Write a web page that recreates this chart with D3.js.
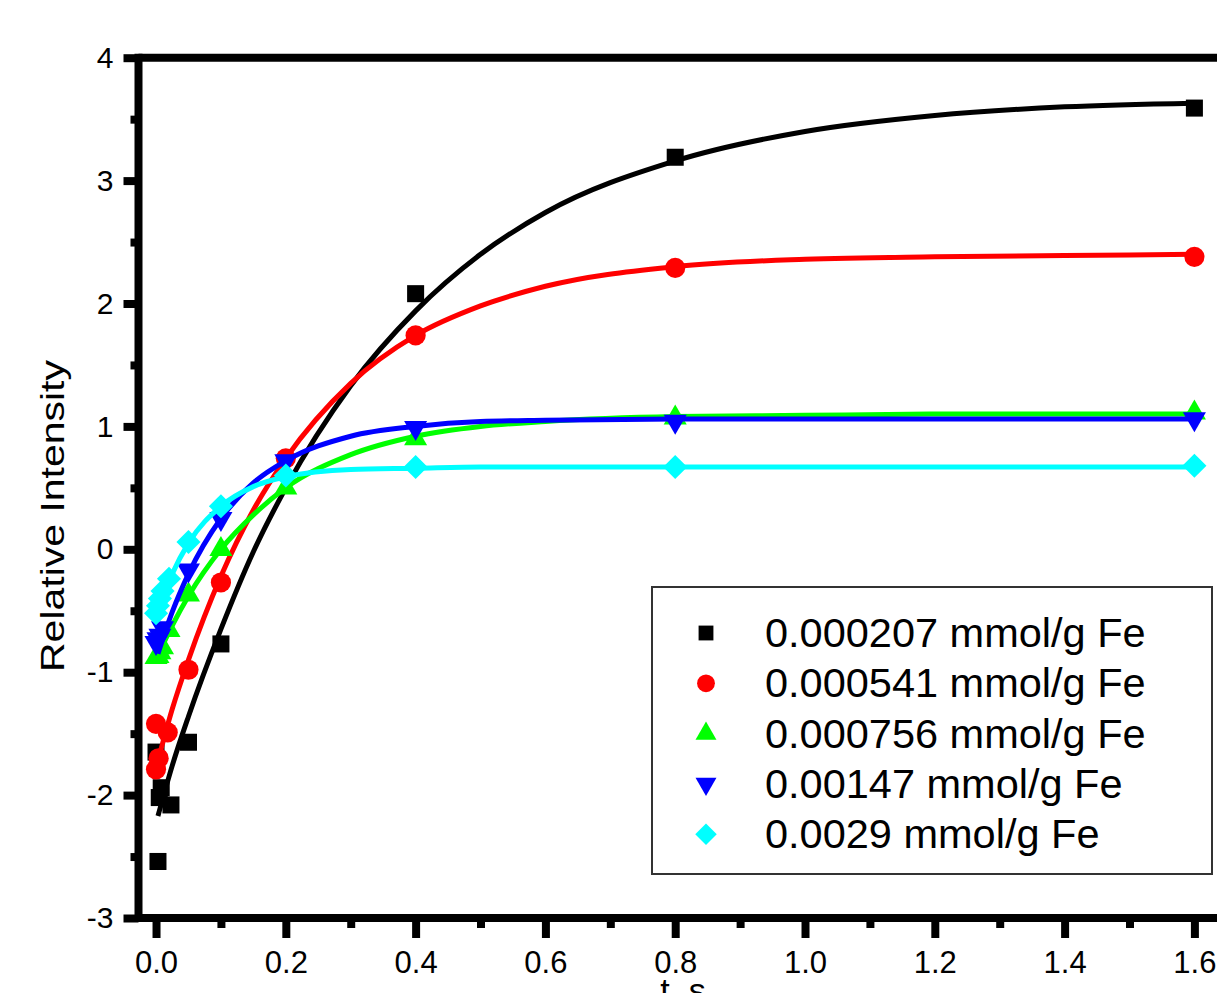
<!DOCTYPE html>
<html>
<head>
<meta charset="utf-8">
<script src="https://cdn.jsdelivr.net/npm/d3@7"></script>
<style>
body { margin: 0; overflow: hidden; background: #fff; }
svg { display: block; overflow: hidden; }
text { font-family: "Liberation Sans", Arial, sans-serif; fill: #000; }
</style>
</head>
<body>
<div id="chart"></div>
<script>
// measured points, t in s
var seriesNames = ["0.000207 mmol/g Fe", "0.000541 mmol/g Fe", "0.000756 mmol/g Fe", "0.00147 mmol/g Fe", "0.0029 mmol/g Fe"];
var seriesColors = ["#000000", "#ff0000", "#00ff00", "#0000ff", "#00ffff"];

var blackT = [0, 0.003, 0.005, 0.008, 0.023, 0.05, 0.1, 0.4, 0.8, 1.6];
var blackY = [-1.65, -2.54, -2.02, -1.94, -2.08, -1.57, -0.77, 2.08, 3.19, 3.59];
var redT = [0, 0, 0.004, 0.018, 0.05, 0.1, 0.2, 0.4, 0.8, 1.6];
var redY = [-1.42, -1.79, -1.70, -1.49, -0.98, -0.27, 0.74, 1.74, 2.29, 2.38];
var greenT = [0, 0.003, 0.006, 0.01, 0.02, 0.05, 0.1, 0.2, 0.4, 0.8, 1.6];
var greenY = [-0.88, -0.87, -0.84, -0.80, -0.66, -0.37, 0.0, 0.5, 0.9, 1.07, 1.11];
var blueT = [0, 0.003, 0.006, 0.01, 0.05, 0.1, 0.2, 0.4, 0.8, 1.6];
var blueY = [-0.76, -0.73, -0.70, -0.64, -0.17, 0.25, 0.72, 0.99, 1.04, 1.06];
var cyanT = [0, 0.003, 0.006, 0.01, 0.02, 0.05, 0.1, 0.2, 0.4, 0.8, 1.6];
var cyanY = [-0.52, -0.46, -0.40, -0.34, -0.24, 0.06, 0.35, 0.6, 0.67, 0.67, 0.68];

// fitted curves
var fitT = [0.003, 0.025, 0.05, 0.1, 0.15, 0.2, 0.3, 0.4, 0.5, 0.6, 0.8, 1.0, 1.2, 1.4, 1.6];
var blackFit = [-2.17, -1.76, -1.36, -0.65, -0.02, 0.50, 1.33, 1.94, 2.40, 2.74, 3.16, 3.40, 3.53, 3.60, 3.63];
var redFit = [-1.72, -1.30, -0.90, -0.22, 0.32, 0.74, 1.35, 1.74, 1.98, 2.14, 2.30, 2.36, 2.38, 2.39, 2.40];
var greenFit = [-0.86, -0.62, -0.38, 0.0, 0.28, 0.50, 0.77, 0.92, 1.00, 1.04, 1.08, 1.09, 1.10, 1.10, 1.10];
var blueFit = [-0.85, -0.51, -0.20, 0.25, 0.54, 0.72, 0.92, 1.00, 1.04, 1.05, 1.06, 1.06, 1.06, 1.06, 1.06];
var cyanFit = [-0.50, -0.20, 0.05, 0.35, 0.51, 0.59, 0.65, 0.66, 0.67, 0.67, 0.67, 0.67, 0.67, 0.67, 0.67];

var xTicks = [0, 0.2, 0.4, 0.6, 0.8, 1.0, 1.2, 1.4, 1.6];
var yTicks = [-3, -2, -1, 0, 1, 2, 3, 4];

var W = 1217, H = 993;
var x = d3.scaleLinear().domain([-0.027, 1.65]).range([138.5, 156 + 1.65 * 649]);
var y = d3.scaleLinear().domain([-3, 4]).range([918, 57.7]);

var svg = d3.select("#chart").append("svg").attr("width", W).attr("height", H);

var sym = [
	{ type: d3.symbolSquare, size: 290, rot: 0 },
	{ type: d3.symbolCircle, size: 320, rot: 0 },
	{ type: d3.symbolTriangle, size: 230, rot: 0 },
	{ type: d3.symbolTriangle, size: 230, rot: 180 },
	{ type: d3.symbolSquare, size: 290, rot: 45 }
];

var series = [
	{ t: blackT, v: blackY, f: blackFit },
	{ t: redT, v: redY, f: redFit },
	{ t: greenT, v: greenY, f: greenFit },
	{ t: blueT, v: blueY, f: blueFit },
	{ t: cyanT, v: cyanY, f: cyanFit }
];

var line = d3.line()
	.x(function(d) { return x(d[0]); })
	.y(function(d) { return y(d[1]); })
	.curve(d3.curveMonotoneX);

series.forEach(function(s, i) {
	var g = svg.append("g");
	g.append("path")
		.attr("d", line(fitT.map(function(t, j) { return [t, s.f[j]]; })))
		.attr("fill", "none")
		.attr("stroke", seriesColors[i])
		.attr("stroke-width", 5);
	g.selectAll("path.pt").data(s.t.map(function(t, j) { return [t, s.v[j]]; })).enter().append("path")
		.attr("class", "pt")
		.attr("d", d3.symbol().type(sym[i].type).size(sym[i].size))
		.attr("transform", function(d) { return "translate(" + x(d[0]) + "," + y(d[1]) + ") rotate(" + sym[i].rot + ")"; })
		.attr("fill", seriesColors[i]);
});

// axes
var xAxis = d3.axisBottom(x).tickValues(xTicks).tickSize(20).tickFormat(d3.format(".1f"));
var xMinor = d3.axisBottom(x).tickValues(d3.range(0.1, 1.7, 0.2)).tickSize(10).tickFormat("");
var yAxis = d3.axisLeft(y).tickValues(yTicks).tickSize(15).tickFormat(function(d) { return String(d); });
var yMinor = d3.axisLeft(y).tickValues(d3.range(-2.5, 4, 1)).tickSize(8).tickFormat("");

function styleAxis(g) {
	g.select(".domain").remove();
	g.selectAll(".tick line").attr("stroke", "#000").attr("stroke-width", 8);
	g.selectAll(".tick text").style("font-size", "31px").attr("fill", "#000");
}

svg.append("g").attr("transform", "translate(0," + y(-3) + ")").call(xAxis).call(styleAxis)
	.selectAll(".tick text").attr("dy", 0).attr("y", 973 - y(-3));
svg.append("g").attr("transform", "translate(0," + y(-3) + ")").call(xMinor).call(styleAxis);
svg.append("g").attr("transform", "translate(" + x.range()[0] + ",0)").call(yAxis).call(styleAxis)
	.selectAll(".tick text").attr("x", -25).style("font-size", "30px");
svg.append("g").attr("transform", "translate(" + x.range()[0] + ",0)").call(yMinor).call(styleAxis);

// frame lines
svg.append("line").attr("x1", x.range()[0]).attr("x2", W + 20).attr("y1", y(4)).attr("y2", y(4))
	.attr("stroke", "#000").attr("stroke-width", 8);
svg.append("line").attr("x1", x.range()[0]).attr("x2", W + 20).attr("y1", y(-3)).attr("y2", y(-3))
	.attr("stroke", "#000").attr("stroke-width", 8);
svg.append("line").attr("x1", x.range()[0]).attr("x2", x.range()[0]).attr("y1", y(4) - 4).attr("y2", y(-3) + 4)
	.attr("stroke", "#000").attr("stroke-width", 8);

// axis titles
svg.append("text")
	.attr("transform", "translate(64,516) rotate(-90)")
	.attr("text-anchor", "middle")
	.attr("textLength", 312)
	.attr("lengthAdjust", "spacingAndGlyphs")
	.style("font-size", "34px")
	.text("Relative Intensity");
svg.append("text")
	.attr("x", 683).attr("y", 1002)
	.attr("text-anchor", "middle")
	.style("font-size", "34px")
	.text("t, s");

// legend
var lg = svg.append("g");
lg.append("rect").attr("x", 652).attr("y", 587).attr("width", 560).attr("height", 287)
	.attr("fill", "#fff").attr("stroke", "#333").attr("stroke-width", 2);
var lsym = [220, 250, 190, 190, 230];
seriesNames.forEach(function(name, i) {
	var cy = 633 + i * 50.3;
	lg.append("path")
		.attr("d", d3.symbol().type(sym[i].type).size(lsym[i]))
		.attr("transform", "translate(706," + cy + ") rotate(" + sym[i].rot + ")")
		.attr("fill", seriesColors[i]);
	lg.append("text")
		.attr("x", 765).attr("y", cy + 14)
		.style("font-size", "41.5px")
		.text(name);
});
</script>
</body>
</html>
